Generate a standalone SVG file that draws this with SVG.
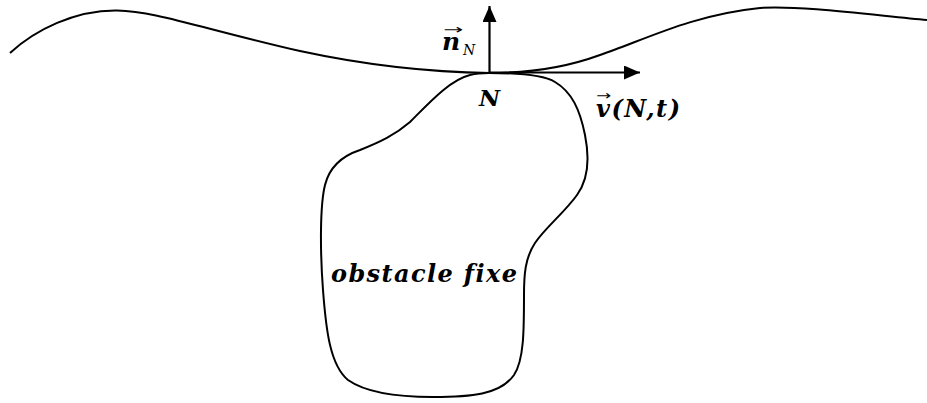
<svg xmlns="http://www.w3.org/2000/svg" width="927" height="403" viewBox="0 0 927 403">
<style>
.curve{fill:none;stroke:#000;stroke-width:2}
.arrow{fill:none;stroke:#000;stroke-width:2.2}
.m{font-family:"DejaVu Serif","Liberation Serif",serif;font-weight:bold;font-style:italic;fill:#000;font-variant-ligatures:none}
.sub{font-family:"DejaVu Serif","Liberation Serif",serif;font-weight:normal;font-style:italic;fill:#000}
.acc{font-family:"DejaVu Sans","Liberation Sans",sans-serif;fill:#000}
</style>
<defs>
<marker id="ah" markerWidth="16" markerHeight="14" refX="16" refY="7" orient="auto" markerUnits="userSpaceOnUse">
<path d="M0,0 L16,7 L0,14 Z" fill="#000"/>
</marker>
</defs>
<rect width="927" height="403" fill="#fff"/>
<g id="surface">
<path class="curve" d="M10,53 C35,30 75,10 117,10.5 C155,11 200,28 300,51 C360,64 420,72 490,73 C530,73 570,66 600,55 C640,42 690,15 760,8 C800,5 880,16 927,20"/>
</g>
<g id="obstacle">
<path class="curve" d="M489,73 C520,73 545,76 555,82 C572,92 580,110 585,135 C590,160 588,180 577,195 C565,212 545,228 535,243 C525,258 524,275 524,295 C524,330 524,360 514,375 C500,395 470,397 433,397 C395,397 365,392 348,380 C330,365 326,330 323,290 C320,250 320,205 325,185 C330,165 345,155 360,150 C380,142 395,135 410,122 C430,102 450,80 470,75 C478,73 484,73 489,73 Z"/>
<text class="m" x="331" y="282" font-size="24" textLength="186" lengthAdjust="spacing">obstacle fixe</text>
</g>
<g id="connectors">
<line class="arrow" x1="489.5" y1="73" x2="489.5" y2="6" marker-end="url(#ah)"/>
<line class="arrow" x1="489.5" y1="72.5" x2="640" y2="72.5" marker-end="url(#ah)"/>
</g>
<g id="label-n">
<text class="acc" x="443" y="34" font-size="13" textLength="20" lengthAdjust="spacingAndGlyphs">→</text>
<text class="m" x="442" y="50" font-size="25">n</text>
<text class="sub" x="463" y="55" font-size="14">N</text>
</g>
<g id="label-N">
<text class="m" x="479" y="106" font-size="23">N</text>
</g>
<g id="label-v">
<text class="acc" x="596" y="100" font-size="13" textLength="15" lengthAdjust="spacingAndGlyphs">→</text>
<text class="m" x="596" y="117" font-size="24" textLength="84" lengthAdjust="spacing">v(N,t)</text>
</g>
</svg>
